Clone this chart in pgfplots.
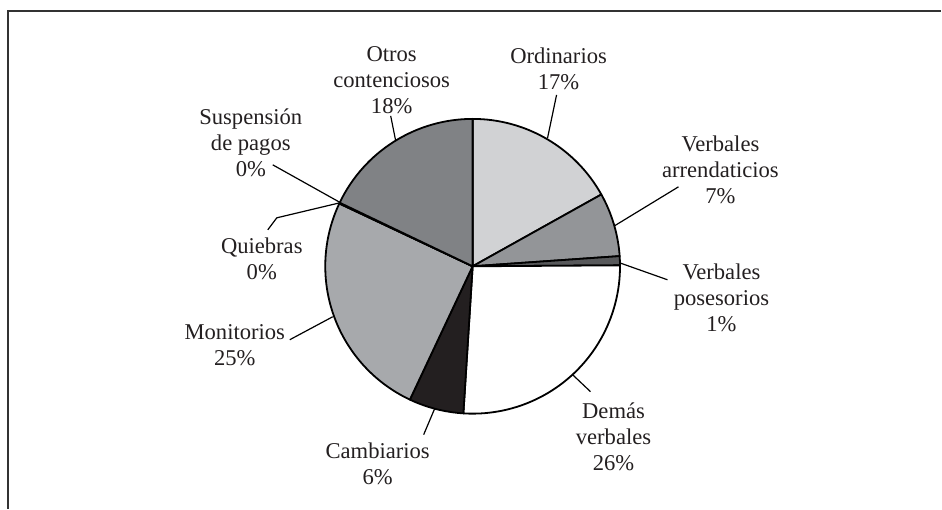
\documentclass[border=0pt]{standalone}
\usepackage{fontspec}
\setmainfont{Liberation Serif}
\usepackage{pgfplots}
\pgfplotsset{compat=1.18}
\usepackage{pgfplotstable}
\definecolor{cOrd}{HTML}{D1D2D4}
\definecolor{cArr}{HTML}{939598}
\definecolor{cPos}{HTML}{58595B}
\definecolor{cDem}{HTML}{FFFFFF}
\definecolor{cCam}{HTML}{231F20}
\definecolor{cMon}{HTML}{A7A9AC}
\definecolor{cQui}{HTML}{BCBEC0}
\definecolor{cSus}{HTML}{6D6E71}
\definecolor{cOtr}{HTML}{808285}
\definecolor{txt}{HTML}{231F20}

% share of each kind of case (%), clockwise from 12 o'clock
\pgfplotstableread{
value color
16.9 cOrd
7.0 cArr
1.0 cPos
26.1 cDem
6.0 cCam
25.0 cMon
0.05 cQui
0.05 cSus
17.9 cOtr
}\piedata

\newcommand\Rpie{73.75pt}
\gdef\cum{0}

\begin{document}
\begin{tikzpicture}
\begin{axis}[scale only axis, width=471pt, height=254.5pt,
  xmin=0, xmax=942, ymin=0, ymax=509, hide axis, clip=false]
\path (axis cs:0,0) rectangle (axis cs:942,509);
% frame
\draw[line width=0.75pt, color=black!80] (axis cs:8,0) -- (axis cs:8,498) -- (axis cs:942,498);
% pie
\pgfplotstablegetrowsof{\piedata}
\pgfmathtruncatemacro\lastrow{\pgfplotsretval-1}
\foreach \i in {0,...,\lastrow}{
  \pgfplotstablegetelem{\i}{value}\of\piedata \let\v\pgfplotsretval
  \pgfplotstablegetelem{\i}{color}\of\piedata \let\c\pgfplotsretval
  \pgfmathsetmacro\a{90-3.6*\cum}
  \pgfmathsetmacro\b{90-3.6*(\cum+\v)}
  \pgfmathsetmacro\nc{\cum+\v}
  \global\let\cum\nc
  \edef\tmp{\noexpand\filldraw[fill=\c, draw=black, line width=0.9pt, line join=round] (axis cs:473,242.5) -- ++(\a:\Rpie) arc[start angle=\a, end angle=\b, radius=\Rpie] -- cycle;}
  \tmp
}
% leader lines
\begin{scope}[line width=0.6pt, color=black]
\draw (axis cs:391,393) -- (axis cs:396,368);
\draw (axis cs:557,414) -- (axis cs:548,371);
\draw (axis cs:679,322) -- (axis cs:615,283);
\draw (axis cs:620,246) -- (axis cs:668,229);
\draw (axis cs:573,134) -- (axis cs:591,117);
\draw (axis cs:435,100) -- (axis cs:424,74);
\draw (axis cs:290,169) -- (axis cs:333,192);
\draw (axis cs:268,279) -- (axis cs:277,291) -- (axis cs:340,306);
\draw (axis cs:273,344) -- (axis cs:341,306);
\end{scope}
% labels
\begin{scope}[every node/.style={align=center, text=txt, font=\fontsize{11.3}{13}\selectfont, inner sep=0pt}]
\node at (axis cs:392,429) {Otros\\contenciosos\\18\%};
\node at (axis cs:559,440) {Ordinarios\\17\%};
\node at (axis cs:721,339) {Verbales\\arrendaticios\\7\%};
\node at (axis cs:722,211) {Verbales\\posesorios\\1\%};
\node at (axis cs:614,72) {Demás\\verbales\\26\%};
\node at (axis cs:378,45) {Cambiarios\\6\%};
\node at (axis cs:235,163.5) {Monitorios\\25\%};
\node at (axis cs:262,249.5) {Quiebras\\0\%};
\node at (axis cs:251,366) {Suspensión\\de pagos\\0\%};
\end{scope}
\end{axis}
\end{tikzpicture}
\end{document}
